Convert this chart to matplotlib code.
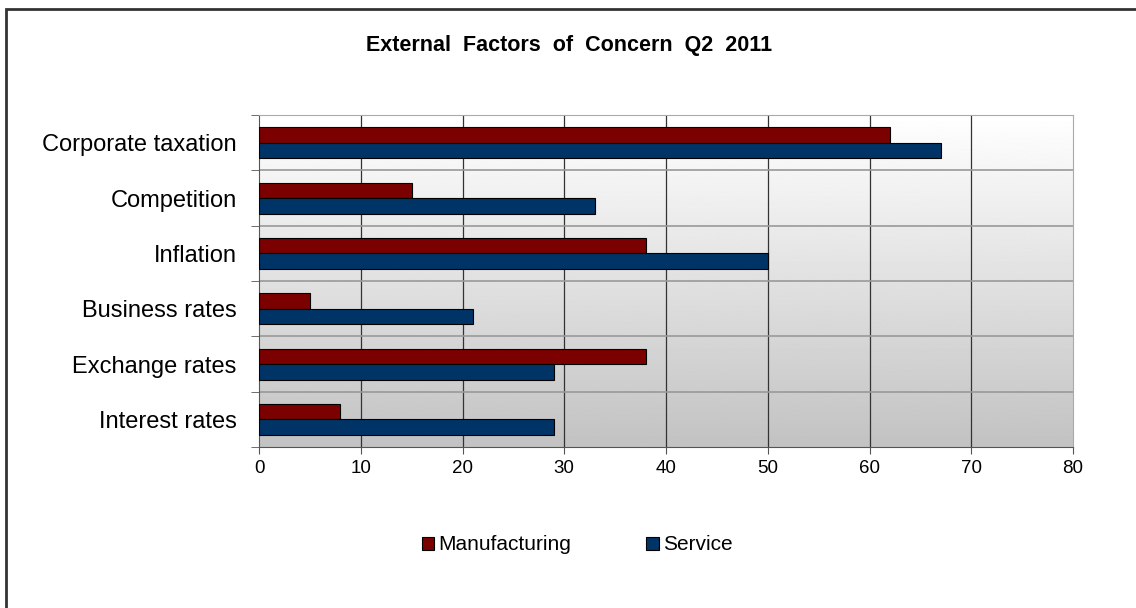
import numpy as np
import matplotlib.pyplot as plt
from matplotlib.patches import Rectangle

plt.rcParams['font.family'] = ['Liberation Sans', 'DejaVu Sans']

categories = ['Corporate taxation', 'Competition', 'Inflation',
              'Business rates', 'Exchange rates', 'Interest rates']
manufacturing = [62, 15, 38, 5, 38, 8]
service = [67, 33, 50, 21, 29, 29]

fig = plt.figure(figsize=(11.36, 6.08), dpi=100)
ax = fig.add_axes([0.228, 0.2648, 0.7166, 0.546])

n = len(categories)
y = np.arange(n)
h = 0.28

# gradient background
grad = np.linspace(1, 0, 256).reshape(-1, 1)
ax.imshow(grad, cmap='gray', vmin=-3.2, vmax=1, aspect='auto',
          extent=[0, 80, n - 0.5, -0.5], zorder=0)

ax.barh(y - h / 2, manufacturing, height=h, color='#7b0000',
        edgecolor='black', linewidth=0.8, label='Manufacturing', zorder=3)
ax.barh(y + h / 2, service, height=h, color='#003366',
        edgecolor='black', linewidth=0.8, label='Service', zorder=3)

ax.set_xlim(0, 80)
ax.set_ylim(n - 0.5, -0.5)
ax.set_xticks(np.arange(0, 81, 10))
ax.set_yticks(y)
ax.set_yticklabels(categories, fontsize=17)
ax.set_yticks(np.arange(-0.5, n, 1), minor=True)
ax.tick_params(axis='y', which='major', length=0, pad=16)
ax.tick_params(axis='y', which='minor', length=6, color='#555555')
ax.tick_params(axis='x', length=5, labelsize=13.5, color='#555555', pad=4)

for v in np.arange(10, 80, 10):
    ax.axvline(v, color='#333333', lw=0.9, zorder=1)
for b in np.arange(0.5, n - 0.5, 1):
    ax.axhline(b, color='#999999', lw=1.2, zorder=1)

for s in ['top', 'right']:
    ax.spines[s].set_color('#aaaaaa')
for s in ['left', 'bottom']:
    ax.spines[s].set_color('#555555')

fig.text(0.501, 1 - 45 / 608, 'External  Factors  of  Concern  Q2  2011',
         ha='center', va='center', fontsize=15.5, fontweight='bold')

fig.legend(loc='center', bbox_to_anchor=(0.508, 1 - 545 / 608), ncol=2,
           frameon=False, fontsize=15, handlelength=0.6, handleheight=0.6,
           handletextpad=0.2, columnspacing=3.6)

fig.patches.append(Rectangle((6 / 1136, -0.1), 1.2, 1 - 9 / 608 + 0.1,
                             transform=fig.transFigure, fill=False,
                             edgecolor='#333333', lw=2))

fig.savefig('out.png', dpi=100)
